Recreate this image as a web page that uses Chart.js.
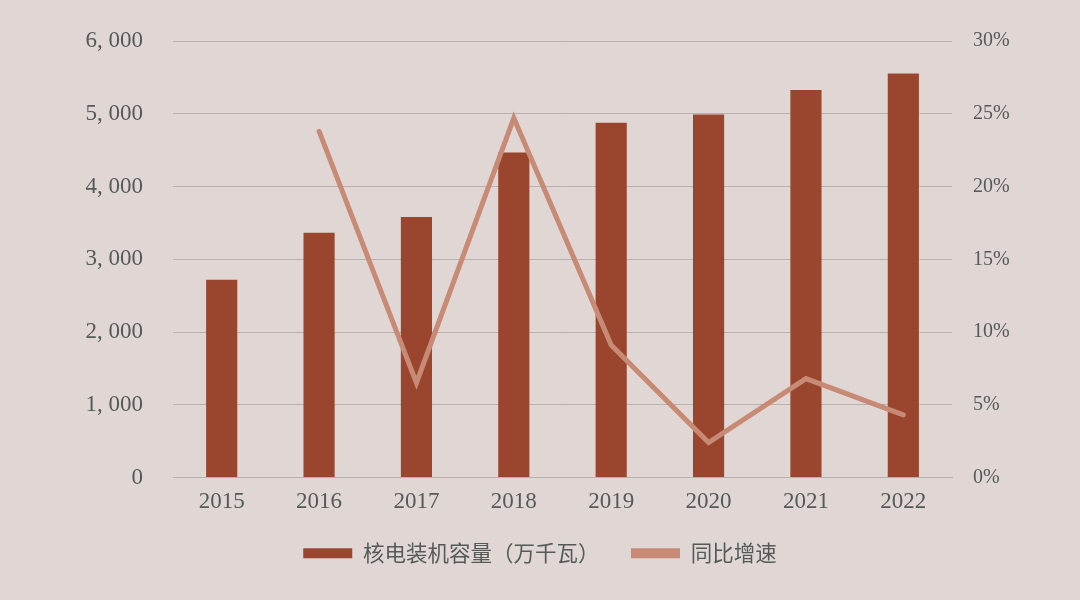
<!DOCTYPE html>
<html>
<head>
<meta charset="utf-8">
<script src="https://cdn.jsdelivr.net/npm/chart.js@4/dist/chart.umd.min.js"></script>
<style>
html,body{margin:0;padding:0;background:#e0d7d5;}
#wrap{width:1080px;height:600px;}
</style>
</head>
<body>
<div id="wrap"><canvas id="c" width="1080" height="600"></canvas></div>
<script>
const categories = ['2015','2016','2017','2018','2019','2020','2021','2022'];
const capacity = [2717, 3364, 3582, 4466, 4875, 4989, 5326, 5553];
const growth = [null, 23.8, 6.5, 24.7, 9.1, 2.4, 6.8, 4.3];
const seriesNames = ['核电装机容量（万千瓦）', '同比增速'];

const barColor = '#9a462e';
const lineColor = '#c78a74';
const textColor = '#555a56';
const gridColor = '#b9afae';
const serif = "'Liberation Serif','DejaVu Serif','Noto Sans CJK SC',serif";

new Chart(document.getElementById('c'), {
  data: {
    labels: categories,
    datasets: [
      { type: 'bar', label: seriesNames[0], data: capacity, backgroundColor: barColor,
        yAxisID: 'y', barPercentage: 0.32, categoryPercentage: 1, order: 1 },
      { type: 'line', label: seriesNames[1], data: growth, borderColor: lineColor,
        backgroundColor: lineColor, borderWidth: 5, pointRadius: 0, tension: 0,
        borderCapStyle: 'round', yAxisID: 'y1', order: 0 }
    ]
  },
  options: {
    responsive: false,
    animation: false,
    layout: { padding: { top: 41, bottom: 26, left: 0, right: 0 } },
    plugins: {
      tooltip: { enabled: false },
      legend: {
        position: 'bottom',
        labels: {
          boxWidth: 49, boxHeight: 10, padding: 10,
          color: textColor,
          font: { family: "'Noto Sans CJK SC','Liberation Serif',serif", size: 21.5 },
          sort: (a, b) => a.datasetIndex - b.datasetIndex,
          generateLabels(chart) {
            const items = Chart.defaults.plugins.legend.labels.generateLabels(chart);
            items.forEach(it => {
              it.lineWidth = 0;
              it.fillStyle = it.datasetIndex === 0 ? barColor : lineColor;
              it.strokeStyle = it.fillStyle;
              if (it.datasetIndex === 0) it.text = it.text + '\u3000\u2002';
            });
            return items;
          }
        }
      }
    },
    scales: {
      x: {
        grid: { display: false, drawTicks: false },
        border: { display: true, color: gridColor },
        ticks: { color: textColor, font: { family: serif, size: 23 }, padding: 11, maxRotation: 0 },
        afterFit(s) { s.height = 55; }
      },
      y: {
        position: 'left', min: 0, max: 6000,
        grid: { color: gridColor, drawTicks: false, lineWidth: 1 },
        border: { display: false },
        ticks: { stepSize: 1000, color: textColor, font: { family: serif, size: 23 }, padding: 30,
          callback: v => v >= 1000 ? Math.floor(v/1000) + ', ' + String(v % 1000).padStart(3,'0') : String(v) },
        afterFit(s) { s.width = 173; s.paddingTop = 0; s.paddingBottom = 0; }
      },
      y1: {
        position: 'right', min: 0, max: 30,
        grid: { drawOnChartArea: false, drawTicks: false },
        border: { display: false },
        ticks: { stepSize: 5, color: textColor, font: { family: serif, size: 20 }, padding: 21,
          callback: v => v + '%' },
        afterFit(s) { s.width = 128; s.paddingTop = 0; s.paddingBottom = 0; }
      }
    }
  }
});
</script>
</body>
</html>
